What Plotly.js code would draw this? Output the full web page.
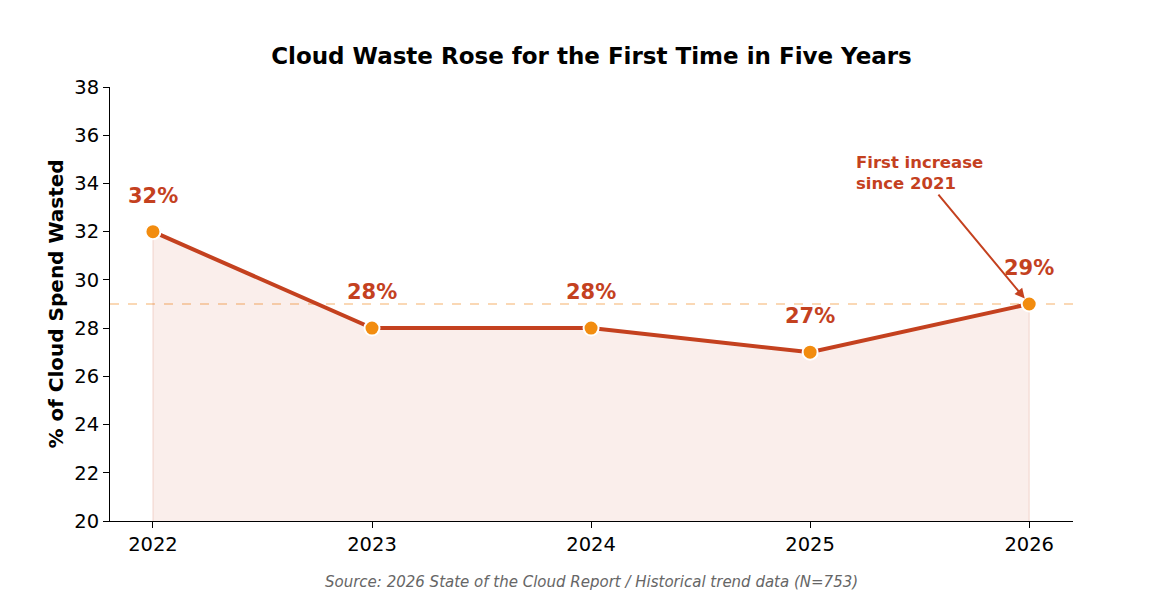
<!DOCTYPE html>
<html>
<head>
<meta charset="utf-8">
<script src="https://cdn.plot.ly/plotly-3.0.1.min.js"></script>
<style>html,body{margin:0;padding:0;background:#fff;}#chart{width:1164px;height:612px;}</style>
</head>
<body>
<div id="chart"></div>
<script>
const years = [2022, 2023, 2024, 2025, 2026];
const wastePct = [32, 28, 28, 27, 29];
const yTicks = [20, 22, 24, 26, 28, 30, 32, 34, 36, 38];
const referenceLevel = 29;
const calloutText = "First increase<br>since 2021";
const sourceText = "Source: 2026 State of the Cloud Report / Historical trend data (N=753)";

const lineColor = "#C4411F";
const markerColor = "#F28C0F";

const fillX = [years[0]].concat(years, [years[years.length - 1]]);
const fillY = [20].concat(wastePct, [20]);

const traces = [
  {
    x: fillX, y: fillY, type: "scatter", mode: "lines",
    fill: "toself", fillcolor: "rgba(196,65,31,0.09)",
    line: {color: "rgba(196,65,31,0.12)", width: 1.5},
    hoverinfo: "skip", showlegend: false
  },
  {
    x: years, y: wastePct, type: "scatter", mode: "lines+markers",
    line: {color: lineColor, width: 4},
    marker: {color: markerColor, size: 15, line: {color: "#fff", width: 2}},
    showlegend: false
  }
];

const labelAnn = years.map((yr, i) => ({
  x: yr, y: wastePct[i], xref: "x", yref: "y",
  text: "<b>" + wastePct[i] + "%</b>", showarrow: false,
  yshift: 36, font: {family: "DejaVu Sans", size: 21, color: lineColor}
}));

const layout = {
  width: 1164, height: 612,
  paper_bgcolor: "#fff", plot_bgcolor: "#fff",
  margin: {l: 110, r: 91, t: 87, b: 91},
  title: {text: "<b>Cloud Waste Rose for the First Time in Five Years</b>",
    font: {family: "DejaVu Sans", size: 23, color: "#000"},
    xref: "paper", x: 0.5, xanchor: "center", y: 0.908, yanchor: "middle"},
  xaxis: {
    range: [2021.804, 2026.2], tickvals: years, ticktext: years.map(String),
    showgrid: false, zeroline: false, showline: true, linecolor: "#000", linewidth: 1,
    ticks: "outside", ticklen: 6, tickcolor: "#000",
    tickfont: {family: "DejaVu Sans", size: 19.5, color: "#000"}
  },
  yaxis: {
    range: [20, 38], tickvals: yTicks,
    showgrid: false, zeroline: false, showline: true, linecolor: "#000", linewidth: 1,
    ticks: "outside", ticklen: 6, tickcolor: "#000",
    tickfont: {family: "DejaVu Sans", size: 19.5, color: "#000"},
    title: {text: "<b>% of Cloud Spend Wasted</b>", font: {family: "DejaVu Sans", size: 20, color: "#000"}, standoff: 5}
  },
  shapes: [{
    type: "line", xref: "paper", yref: "y", x0: 0, x1: 1, y0: referenceLevel, y1: referenceLevel,
    line: {color: "rgba(246,178,107,0.5)", width: 2, dash: "dash"}, layer: "below"
  }],
  annotations: labelAnn.concat([
    {
      x: years[4], y: wastePct[4], xref: "x", yref: "y",
      ax: 2025.58, ay: 33.6, axref: "x", ayref: "y",
      text: "", showarrow: true, arrowhead: 2, arrowsize: 1, arrowwidth: 2,
      arrowcolor: lineColor, standoff: 7
    },
    {
      x: 2025.2, y: 35.35, xref: "x", yref: "y", xanchor: "left", yanchor: "top",
      text: "<b>" + calloutText + "</b>", showarrow: false, align: "left",
      font: {family: "DejaVu Sans", size: 16.5, color: lineColor}
    },
    {
      x: 0.5, y: 0, xref: "paper", yref: "paper", yshift: -61, yanchor: "middle",
      text: "<i>" + sourceText + "</i>", showarrow: false,
      font: {family: "DejaVu Sans", size: 15, color: "#666"}
    }
  ])
};

Plotly.newPlot("chart", traces, layout, {displayModeBar: false, staticPlot: true});
</script>
</body>
</html>
